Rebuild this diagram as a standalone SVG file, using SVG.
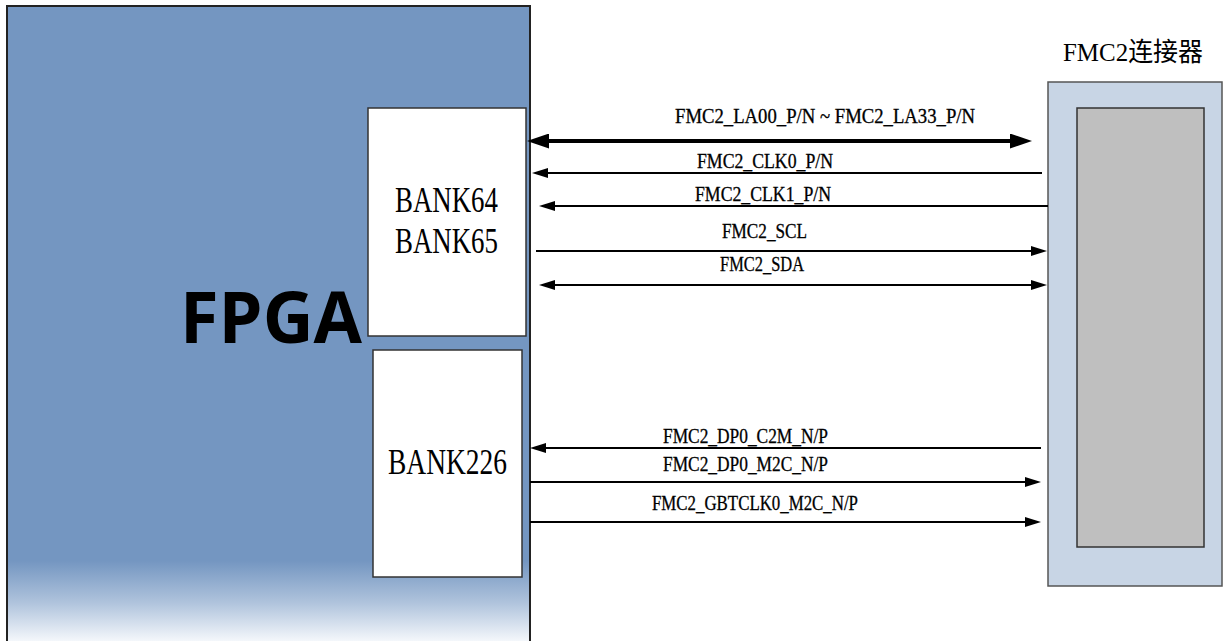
<svg xmlns="http://www.w3.org/2000/svg" width="1224" height="641" viewBox="0 0 1224 641">
<style>
.lbl{font-family:"Liberation Serif","Noto Sans CJK SC",serif;font-size:20px;fill:#000;stroke:#000;stroke-width:0.3}
.bank{font-family:"Liberation Serif",serif;font-size:35px;fill:#000}
.wbox{fill:#fff;stroke:#333;stroke-width:1.5}
.thin{stroke:#000;stroke-width:2;fill:none}
.thick{stroke:#000;stroke-width:4;fill:none}
</style>
<defs>
<linearGradient id="fpgaFill" gradientUnits="userSpaceOnUse" x1="0" y1="0" x2="0" y2="641">
<stop offset="0" stop-color="#7496C1"/>
<stop offset="0.875" stop-color="#7496C1"/>
<stop offset="0.94" stop-color="#AFC3DC"/>
<stop offset="1" stop-color="#F4F7FB"/>
</linearGradient>
<marker id="ah" markerUnits="userSpaceOnUse" markerWidth="16" markerHeight="10" refX="8" refY="5" orient="auto-start-reverse">
<path d="M0,0 L16,5 L0,10 z" fill="#000"/>
</marker>
<marker id="ahBig" markerUnits="userSpaceOnUse" markerWidth="22" markerHeight="15" refX="11" refY="7.5" orient="auto-start-reverse">
<path d="M0,0 L22,7.5 L0,15 z" fill="#000"/>
</marker>
</defs>
<rect width="1224" height="641" fill="#fff"/>

<g id="fpga">
<rect x="7" y="6" width="523" height="636" fill="url(#fpgaFill)"/>
<path d="M7,642 L7,6 L530,6 L530,642" fill="none" stroke="#222" stroke-width="2"/>
<text x="180" y="343" font-family="'Open Sans',sans-serif" font-weight="bold" font-size="71" textLength="182" lengthAdjust="spacingAndGlyphs">FPGA</text>
</g>

<g id="bank64_65">
<rect class="wbox" x="368" y="108" width="158" height="228"/>
<text class="bank" x="395" y="212" textLength="103" lengthAdjust="spacingAndGlyphs">BANK64</text>
<text class="bank" x="395" y="253" textLength="103" lengthAdjust="spacingAndGlyphs">BANK65</text>
</g>

<g id="bank226">
<rect class="wbox" x="373" y="350" width="149" height="227"/>
<text class="bank" x="388" y="474" textLength="119" lengthAdjust="spacingAndGlyphs">BANK226</text>
</g>

<g id="fmc2">
<text x="1063" y="61" font-family="'Liberation Serif','Noto Sans CJK SC',serif" font-size="26" textLength="140" lengthAdjust="spacingAndGlyphs">FMC2连接器</text>
<rect x="1048" y="82" width="174" height="504" fill="#C8D5E5" stroke="#555" stroke-width="1.5"/>
<rect x="1077" y="108" width="127" height="439" fill="#BFBFBF" stroke="#333" stroke-width="1.5"/>
</g>

<g id="connectors">
<line class="thick" x1="538" y1="141" x2="1021" y2="141" marker-start="url(#ahBig)" marker-end="url(#ahBig)"/>
<line class="thin" x1="1042" y1="173" x2="540" y2="173" marker-end="url(#ah)"/>
<line class="thin" x1="1048" y1="206" x2="547" y2="206" marker-end="url(#ah)"/>
<line class="thin" x1="536" y1="251" x2="1039" y2="251" marker-end="url(#ah)"/>
<line class="thin" x1="547" y1="285" x2="1039" y2="285" marker-start="url(#ah)" marker-end="url(#ah)"/>
<line class="thin" x1="1041" y1="448" x2="538" y2="448" marker-end="url(#ah)"/>
<line class="thin" x1="530" y1="482" x2="1033" y2="482" marker-end="url(#ah)"/>
<line class="thin" x1="530" y1="522" x2="1033" y2="522" marker-end="url(#ah)"/>
</g>

<g id="labels">
<text class="lbl" x="675" y="123" textLength="300" lengthAdjust="spacingAndGlyphs">FMC2_LA00_P/N ~ FMC2_LA33_P/N</text>
<text class="lbl" x="697" y="168" textLength="136" lengthAdjust="spacingAndGlyphs">FMC2_CLK0_P/N</text>
<text class="lbl" x="695" y="201" textLength="136" lengthAdjust="spacingAndGlyphs">FMC2_CLK1_P/N</text>
<text class="lbl" x="722" y="238" textLength="85" lengthAdjust="spacingAndGlyphs">FMC2_SCL</text>
<text class="lbl" x="720" y="271" textLength="84" lengthAdjust="spacingAndGlyphs">FMC2_SDA</text>
<text class="lbl" x="663" y="443" textLength="165" lengthAdjust="spacingAndGlyphs">FMC2_DP0_C2M_N/P</text>
<text class="lbl" x="663" y="471" textLength="165" lengthAdjust="spacingAndGlyphs">FMC2_DP0_M2C_N/P</text>
<text class="lbl" x="652" y="510" textLength="206" lengthAdjust="spacingAndGlyphs">FMC2_GBTCLK0_M2C_N/P</text>
</g>
</svg>
